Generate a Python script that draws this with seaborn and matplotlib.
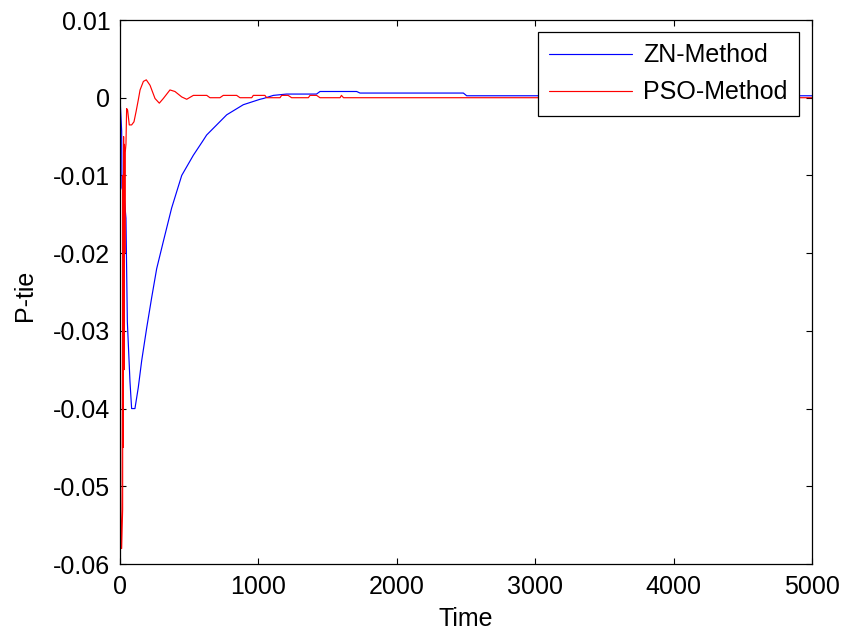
import numpy as np
import pandas as pd
import matplotlib
matplotlib.use('Agg')
import matplotlib.pyplot as plt
import seaborn as sns

# ZN-Method response
zn_time = [0, 12, 14, 29, 43, 53, 72, 84, 108, 132, 157, 193, 229, 265, 313, 373, 446, 530, 597,
           626, 771, 891, 1012, 1036, 1108, 1204, 1420, 1445, 1710, 1734, 2481, 2505, 5000]
zn_ptie = [0, -0.0043, -0.0116, -0.0125, -0.0155, -0.0288, -0.0365, -0.0400, -0.0400, -0.0373,
           -0.0338, -0.0296, -0.0257, -0.0220, -0.0185, -0.0142, -0.0100, -0.0074, -0.0056,
           -0.0048, -0.0022, -0.0009, -0.0002, -0.0001, 0.0003, 0.00047, 0.00047, 0.0008,
           0.0008, 0.0006, 0.0006, 0.00025, 0.00025]

# PSO-Method response
pso_time = [0, 3, 6, 10, 12, 16, 19, 21, 23, 26, 29, 32, 35, 38, 43, 48, 55, 67, 84, 101, 116,
            132, 145, 169, 190, 217, 253, 284, 313, 361, 397, 446, 482, 530, 627, 650, 722, 746,
            843, 867, 952, 963, 1047, 1060, 1156, 1168, 1215, 1240, 1361, 1373, 1421, 1445,
            1590, 1600, 1615, 5000]
pso_ptie = [0, -0.030, -0.050, -0.058, -0.058, -0.055, -0.053, -0.010, -0.045, -0.005, -0.035,
            -0.006, -0.020, -0.007, -0.006, -0.0014, -0.0016, -0.0035, -0.0035, -0.0031, -0.0018,
            -0.0003, 0.0010, 0.0021, 0.0023, 0.0016, -0.0001, -0.0007, -0.0001, 0.0010, 0.0008,
            0.0001, -0.0002, 0.0003, 0.0003, 0, 0, 0.0003, 0.0003, 0, 0, 0.0003, 0.0003, 0, 0,
            0.0003, 0.0003, 0, 0, 0.0003, 0.0003, 0, 0, 0.0003, 0, 0]

x_ticks = [0, 1000, 2000, 3000, 4000, 5000]
y_ticks = [-0.06, -0.05, -0.04, -0.03, -0.02, -0.01, 0, 0.01]
y_labels = ['-0.06', '-0.05', '-0.04', '-0.03', '-0.02', '-0.01', '0', '0.01']

df = pd.concat([
    pd.DataFrame({'Time': zn_time, 'P-tie': zn_ptie, 'Method': 'ZN-Method'}),
    pd.DataFrame({'Time': pso_time, 'P-tie': pso_ptie, 'Method': 'PSO-Method'}),
], ignore_index=True)

sns.set_theme(style='ticks')
plt.rcParams['font.family'] = ['Liberation Sans', 'DejaVu Sans']
plt.rcParams['axes.unicode_minus'] = False
plt.rcParams['text.color'] = 'black'
plt.rcParams['axes.labelcolor'] = 'black'

fig = plt.figure(figsize=(8.46, 6.36), dpi=100)
ax = fig.add_axes([120 / 846, 1 - 564 / 636, 692 / 846, 544 / 636])

sns.lineplot(data=df, x='Time', y='P-tie', hue='Method', estimator=None, sort=False,
             palette={'ZN-Method': '#0000ff', 'PSO-Method': '#ff0000'}, linewidth=0.85, ax=ax)

ax.set_xlim(0, 5000)
ax.set_ylim(-0.06, 0.01)
ax.set_xticks(x_ticks)
ax.set_xticklabels([str(t) for t in x_ticks])
ax.set_yticks(y_ticks)
ax.set_yticklabels(y_labels)
ax.tick_params(direction='in', length=4, width=0.8, colors='black', labelsize=18, pad=7,
               top=True, right=True)
ax.tick_params(axis='x', pad=8)
for s in ax.spines.values():
    s.set_visible(True)
    s.set_color('black')
    s.set_linewidth(0.9)
ax.set_xlabel('Time', fontsize=18)
ax.set_ylabel('P-tie', fontsize=18)
ax.xaxis.set_label_coords(0.5, -0.079)
ax.yaxis.set_label_coords(-0.12, 0.493)

leg = ax.legend(loc='upper right', bbox_to_anchor=(0.981, 0.978), borderaxespad=0,
                fontsize=18, fancybox=False, framealpha=1, edgecolor='black',
                handlelength=3.3, handletextpad=0.45, labelspacing=0.52, borderpad=0.46)
leg.get_frame().set_linewidth(0.9)

fig.savefig('out.png', dpi=100)
